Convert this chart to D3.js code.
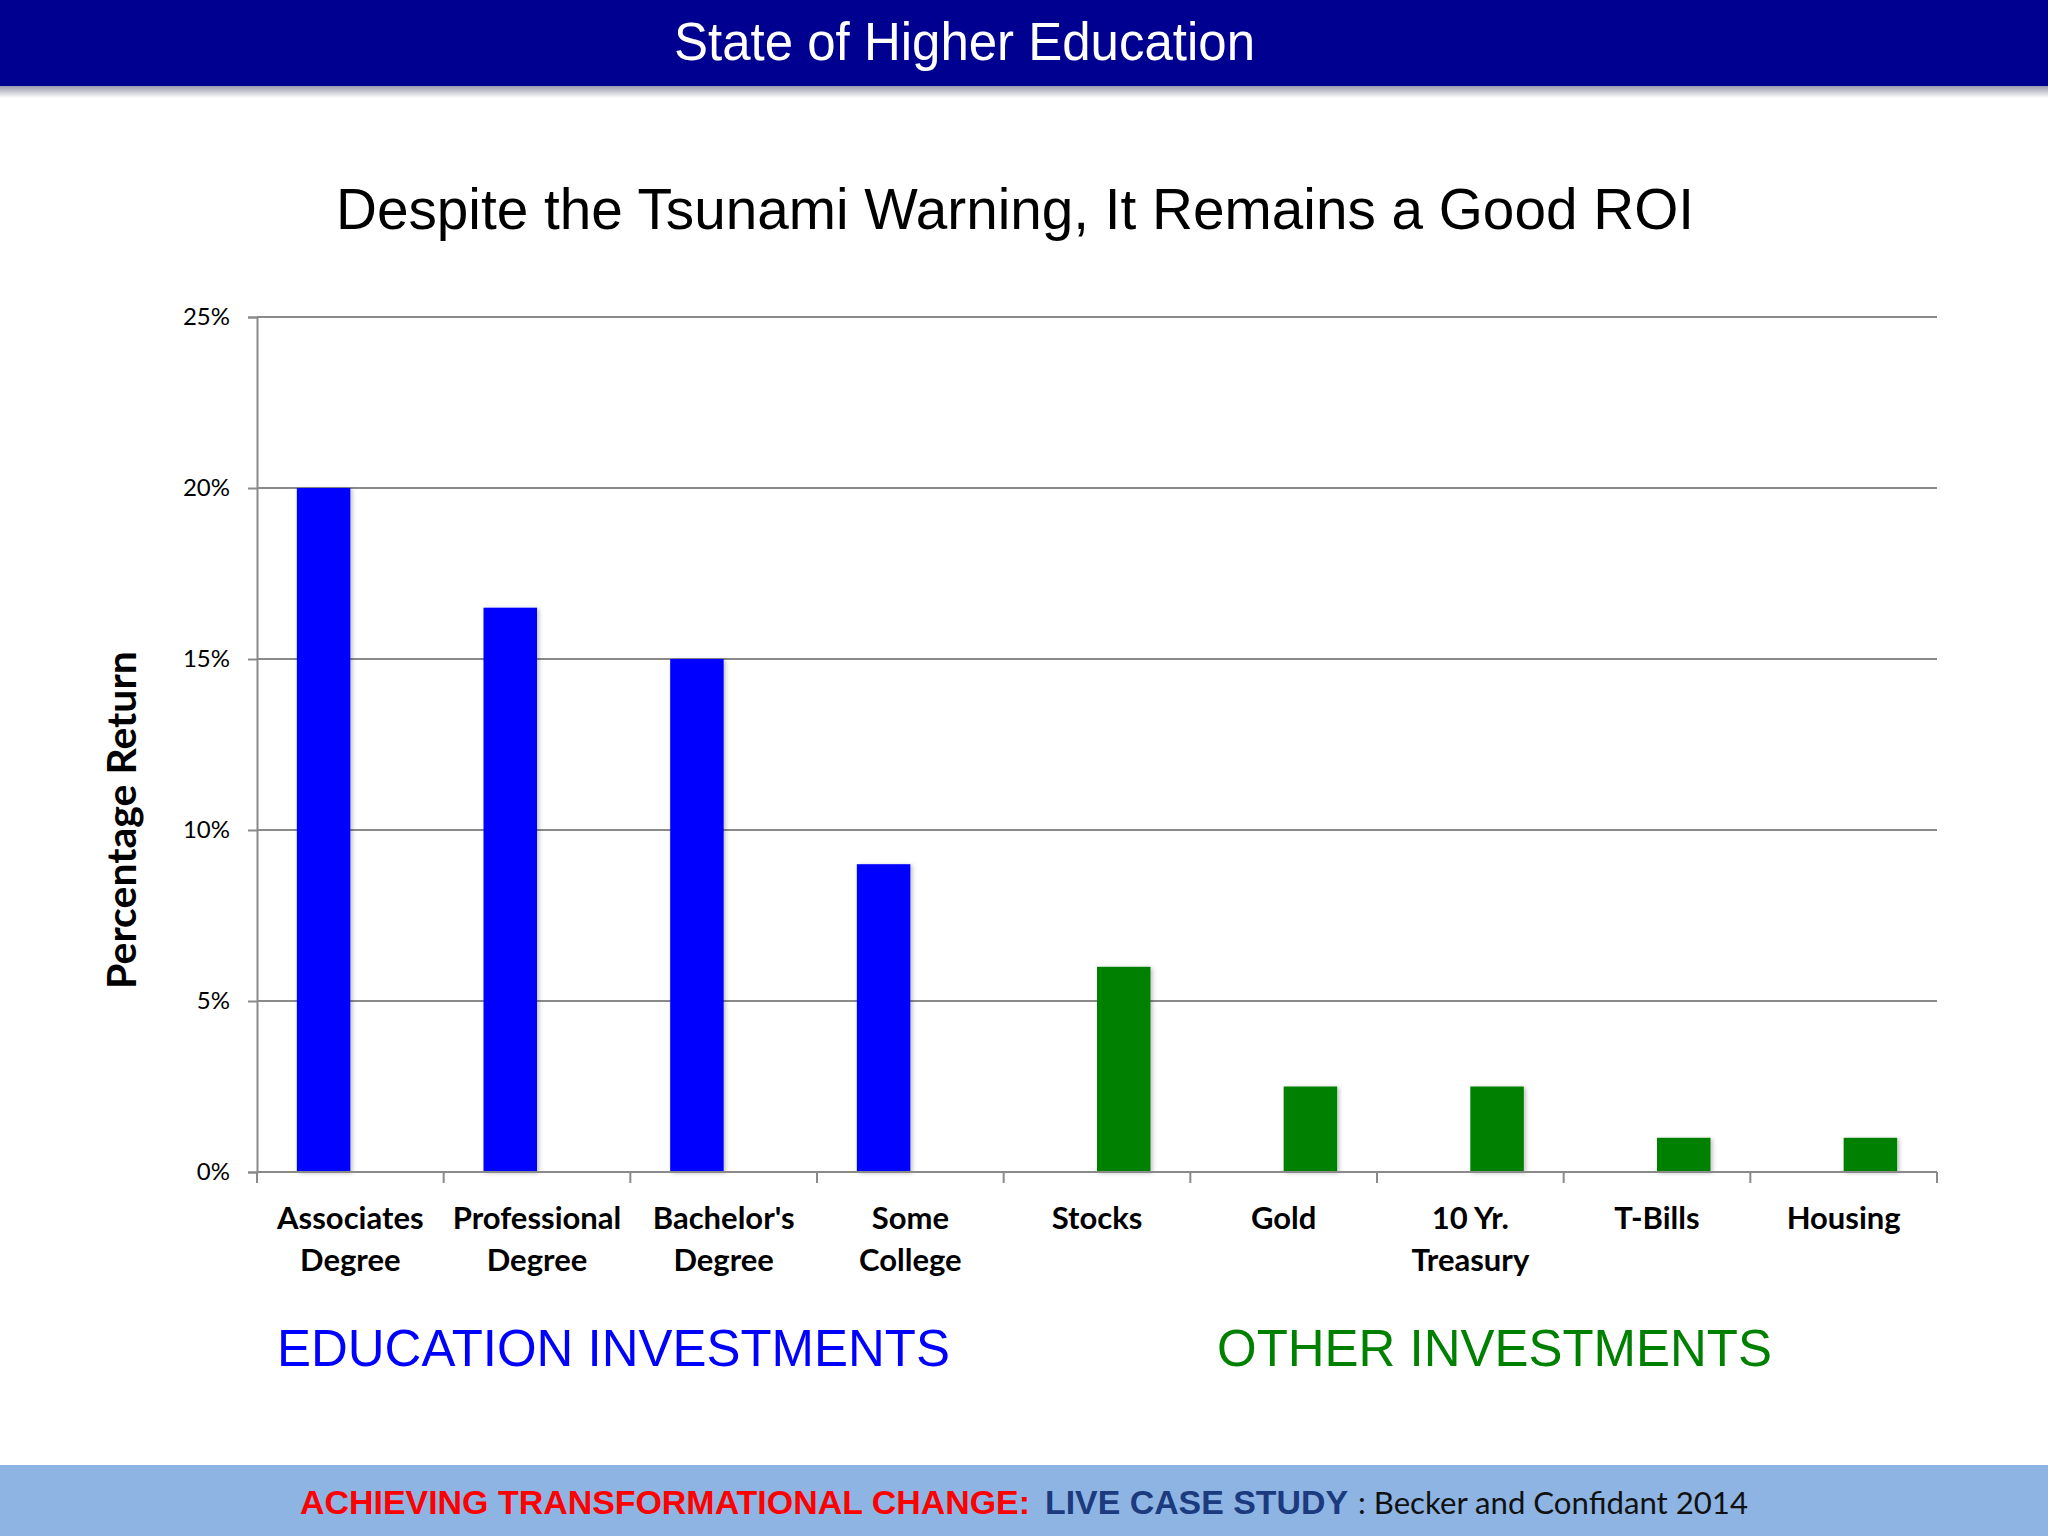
<!DOCTYPE html>
<html>
<head>
<meta charset="utf-8">
<script src="https://cdn.jsdelivr.net/npm/d3@7"></script>
<style>
  body { margin: 0; background: #fff; }
  svg { display: block; }
</style>
</head>
<body>
<div></div>
<script>
var width = 2048;
var height = 1536;

// data
var categories = ["Associates Degree", "Professional Degree", "Bachelor's Degree", "Some College",
	"Stocks", "Gold", "10 Yr. Treasury", "T-Bills", "Housing"];
var labelLines = [["Associates", "Degree"], ["Professional", "Degree"], ["Bachelor's", "Degree"], ["Some", "College"],
	["Stocks"], ["Gold"], ["10 Yr.", "Treasury"], ["T-Bills"], ["Housing"]];
var education = [20, 16.5, 15, 9, null, null, null, null, null];
var other = [null, null, null, null, 6, 2.5, 2.5, 1, 1];
var series = ["education", "other"];
var yTicks = [0, 5, 10, 15, 20, 25];

var blue = "#0000ff";
var green = "#008000";
var gridColor = "#8a8a8a";

var margin = {left: 257, right: 2048 - 1937, top: 317, bottom: 1536 - 1172};

var svg = d3.select("div")
	.append("svg")
	.attr("width", width)
	.attr("height", height);

var defs = svg.append("defs");
var shadowGrad = defs.append("linearGradient")
	.attr("id", "hdrShadow")
	.attr("x1", 0).attr("y1", 0).attr("x2", 0).attr("y2", 1);
shadowGrad.append("stop").attr("offset", "0%").attr("stop-color", "#9a9aae");
shadowGrad.append("stop").attr("offset", "100%").attr("stop-color", "#ffffff");

var barShadow = defs.append("filter")
	.attr("id", "barShadow")
	.attr("x", "-20%").attr("y", "-5%").attr("width", "150%").attr("height", "115%");
barShadow.append("feDropShadow")
	.attr("dx", 2).attr("dy", 1)
	.attr("stdDeviation", 2)
	.attr("flood-color", "#000")
	.attr("flood-opacity", 0.25);

// header
svg.append("rect")
	.attr("x", 0).attr("y", 0)
	.attr("width", width).attr("height", 86)
	.attr("fill", "#000090");
svg.append("rect")
	.attr("x", 0).attr("y", 86)
	.attr("width", width).attr("height", 12)
	.attr("fill", "url(#hdrShadow)");
svg.append("text")
	.attr("x", 674).attr("y", 60)
	.attr("font-family", "Liberation Sans, Arial, sans-serif")
	.attr("font-size", 54)
	.attr("fill", "#fff")
	.attr("textLength", 581)
	.attr("lengthAdjust", "spacingAndGlyphs")
	.text("State of Higher Education");

// chart title
svg.append("text")
	.attr("x", 336).attr("y", 229)
	.attr("font-family", "Liberation Sans, Arial, sans-serif")
	.attr("font-size", 58)
	.attr("fill", "#000")
	.attr("textLength", 1358)
	.attr("lengthAdjust", "spacingAndGlyphs")
	.text("Despite the Tsunami Warning, It Remains a Good ROI");

// scales
var x = d3.scaleBand()
	.domain(categories)
	.range([margin.left, width - margin.right]);

var x1 = d3.scaleBand()
	.domain(series)
	.range([0, x.bandwidth()])
	.paddingOuter(0.745);

var y = d3.scaleLinear()
	.domain([0, 25])
	.range([height - margin.bottom, margin.top]);

// gridlines
svg.append("g")
	.selectAll("line")
	.data(yTicks.filter(t => t > 0))
	.enter()
	.append("line")
	.attr("x1", margin.left)
	.attr("x2", width - margin.right)
	.attr("y1", d => y(d))
	.attr("y2", d => y(d))
	.attr("stroke", gridColor)
	.attr("stroke-width", 2);

// y axis
var yAxis = svg.append("g")
	.attr("transform", "translate(" + margin.left + ",0)")
	.call(d3.axisLeft(y).tickValues(yTicks).tickSize(9).tickPadding(18).tickFormat(d => d + "%"));
yAxis.select(".domain").attr("stroke", gridColor).attr("stroke-width", 2);
yAxis.selectAll(".tick line").attr("stroke", gridColor).attr("stroke-width", 2);
yAxis.selectAll(".tick text")
	.attr("font-family", "Lato, Calibri, sans-serif")
	.attr("font-size", 24)
	.attr("fill", "#000");

// bars
var rows = categories.map((c, i) => ({cat: c, education: education[i], other: other[i]}));
var colors = {education: blue, other: green};

var groups = svg.append("g")
	.selectAll("g")
	.data(rows)
	.enter()
	.append("g")
	.attr("transform", d => "translate(" + x(d.cat) + ",0)");

groups.selectAll("rect")
	.data(d => series.filter(s => d[s] != null).map(s => ({key: s, value: d[s]})))
	.enter()
	.append("rect")
	.attr("x", d => x1(d.key))
	.attr("width", x1.bandwidth())
	.attr("y", d => y(d.value))
	.attr("height", d => y(0) - y(d.value))
	.attr("fill", d => colors[d.key])
	.attr("filter", "url(#barShadow)");

// x axis
var xAxis = svg.append("g")
	.attr("transform", "translate(0," + y(0) + ")");
xAxis.append("line")
	.attr("x1", margin.left)
	.attr("x2", width - margin.right)
	.attr("stroke", gridColor)
	.attr("stroke-width", 2);
xAxis.selectAll(".xt")
	.data(categories.map(c => x(c)).concat([width - margin.right]))
	.enter()
	.append("line")
	.attr("class", "xt")
	.attr("x1", d => d).attr("x2", d => d)
	.attr("y1", 0).attr("y2", 11)
	.attr("stroke", gridColor)
	.attr("stroke-width", 2);

var labels = svg.append("g")
	.selectAll("text")
	.data(categories)
	.enter()
	.append("text")
	.attr("x", d => x(d) + x.bandwidth() / 2)
	.attr("y", 1229)
	.attr("text-anchor", "middle")
	.attr("font-family", "Lato, Calibri, sans-serif")
	.attr("font-weight", "bold")
	.attr("font-size", 31)
	.attr("fill", "#000");
labels.selectAll("tspan")
	.data((d, i) => labelLines[i])
	.enter()
	.append("tspan")
	.attr("x", function () { return this.parentNode.getAttribute("x"); })
	.attr("dy", (d, i) => i === 0 ? 0 : 42)
	.text(d => d);

// y axis title
svg.append("text")
	.attr("transform", "translate(136,820) rotate(-90)")
	.attr("text-anchor", "middle")
	.attr("font-family", "Lato, Calibri, sans-serif")
	.attr("font-weight", "bold")
	.attr("font-size", 41)
	.attr("fill", "#000")
	.text("Percentage Return");

// group labels
svg.append("text")
	.attr("x", 277).attr("y", 1366)
	.attr("font-family", "Liberation Sans, Arial, sans-serif")
	.attr("font-size", 51)
	.attr("fill", blue)
	.attr("textLength", 673)
	.attr("lengthAdjust", "spacingAndGlyphs")
	.text("EDUCATION INVESTMENTS");
svg.append("text")
	.attr("x", 1217).attr("y", 1366)
	.attr("font-family", "Liberation Sans, Arial, sans-serif")
	.attr("font-size", 51)
	.attr("fill", green)
	.attr("textLength", 555)
	.attr("lengthAdjust", "spacingAndGlyphs")
	.text("OTHER INVESTMENTS");

// footer
svg.append("rect")
	.attr("x", 0).attr("y", 1465)
	.attr("width", width).attr("height", height - 1465)
	.attr("fill", "#8db4e3");
svg.append("text")
	.attr("x", 300).attr("y", 1514)
	.attr("font-family", "Liberation Sans, Arial, sans-serif")
	.attr("font-weight", "bold")
	.attr("font-size", 34)
	.attr("fill", "#ff0000")
	.attr("textLength", 730)
	.attr("lengthAdjust", "spacingAndGlyphs")
	.text("ACHIEVING TRANSFORMATIONAL CHANGE:");
svg.append("text")
	.attr("x", 1045).attr("y", 1514)
	.attr("font-family", "Liberation Sans, Arial, sans-serif")
	.attr("font-weight", "bold")
	.attr("font-size", 34)
	.attr("fill", "#1c3a7e")
	.attr("textLength", 303)
	.attr("lengthAdjust", "spacingAndGlyphs")
	.text("LIVE CASE STUDY");
svg.append("text")
	.attr("x", 1358).attr("y", 1514)
	.attr("font-family", "Lato, Calibri, sans-serif")
	.attr("font-size", 31)
	.attr("fill", "#111")
	.attr("textLength", 390)
	.attr("lengthAdjust", "spacingAndGlyphs")
	.text(": Becker and Confidant 2014");
</script>
</body>
</html>
